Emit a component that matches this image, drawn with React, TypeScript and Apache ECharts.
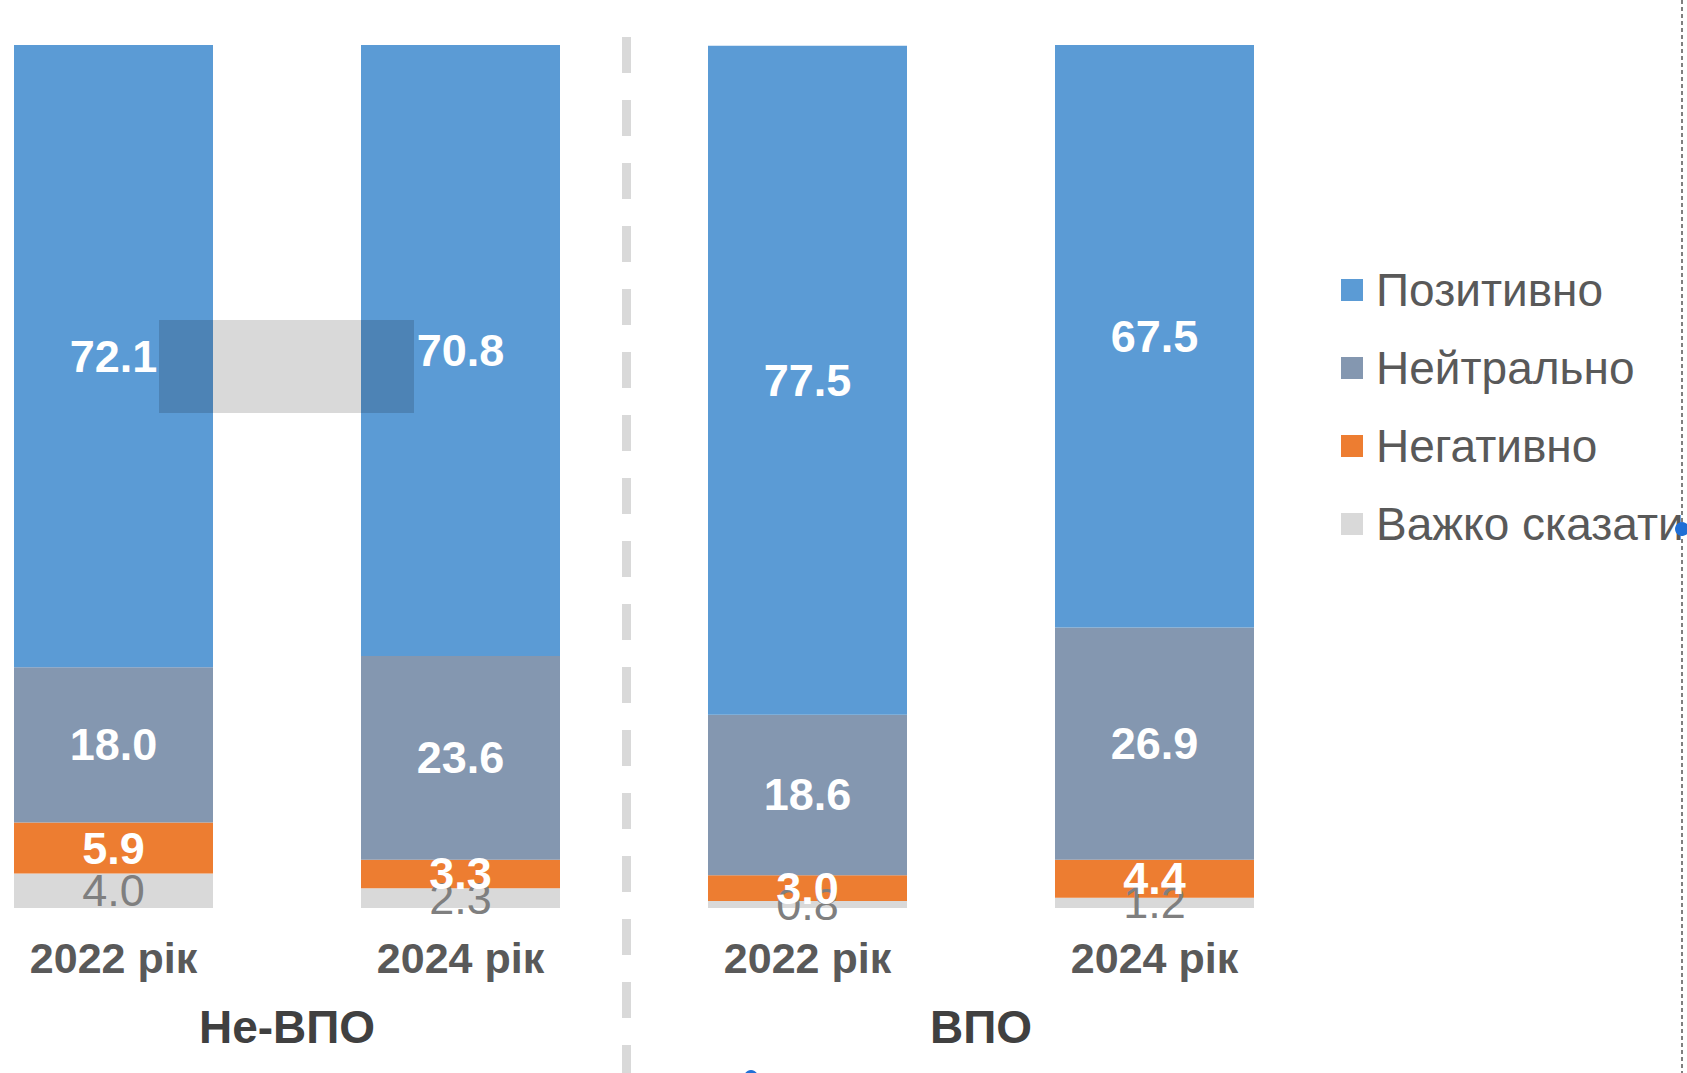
import React, { useEffect, useRef } from "react";
import * as echarts from "echarts";

const categories = ["2022 рік", "2024 рік", "2022 рік", "2024 рік"];
const groups = ["Не-ВПО", "ВПО"];
const seriesNames = ["Позитивно", "Нейтрально", "Негативно", "Важко сказати"];
const positive = [72.1, 70.8, 77.5, 67.5];
const neutral = [18.0, 23.6, 18.6, 26.9];
const negative = [5.9, 3.3, 3.0, 4.4];
const hardToSay = [4.0, 2.3, 0.8, 1.2];

const FONT = "'Liberation Sans', Arial, sans-serif";

export default function App() {
  const ref = useRef<HTMLDivElement>(null);
  useEffect(() => {
    if (!ref.current) return;
    const chart = echarts.init(ref.current, null, { renderer: "svg" });
    const fmt = (p: any) => Number(p.value).toFixed(1);
    const mk = (name: string, data: number[], color: string, labelColor: string, bold: boolean) => ({
      name,
      type: "bar",
      stack: "total",
      xAxisIndex: 0,
      data,
      barWidth: 199,
      itemStyle: { color },
      label: {
        show: true,
        position: "inside",
        formatter: fmt,
        color: labelColor,
        fontSize: 45,
        fontWeight: bold ? "bold" : "normal",
        fontFamily: FONT,
      },
    });
    chart.setOption({
      animation: false,
      backgroundColor: "#ffffff",
      grid: {
        left: -60,
        top: 45,
        width: 1388,
        height: 863,
        outerBoundsMode: "none",
        containLabel: false,
      },
      legend: {
        orient: "vertical",
        left: 1336,
        top: 262,
        itemWidth: 22,
        itemHeight: 22,
        itemGap: 32,
        icon: "rect",
        data: seriesNames,
        formatter: "{t|{name}}",
        textStyle: {
          color: "#595959",
          fontSize: 46,
          lineHeight: 46,
          fontFamily: FONT,
          rich: {
            t: {
              color: "#595959",
              fontSize: 46,
              lineHeight: 46,
              fontFamily: FONT,
              padding: [0, 0, 0, 8],
            },
          },
        },
      },
      xAxis: [
        {
          type: "category",
          data: categories,
          axisLine: { show: false },
          axisTick: { show: false },
          axisLabel: {
            interval: 0,
            margin: 28,
            color: "#595959",
            fontSize: 43,
            lineHeight: 44,
            fontWeight: "bold",
            fontFamily: FONT,
          },
        },
        {
          type: "category",
          data: groups,
          position: "bottom",
          offset: 70,
          axisLine: { show: false },
          axisTick: { show: false },
          axisLabel: {
            interval: 0,
            margin: 26,
            color: "#404040",
            fontSize: 46,
            lineHeight: 46,
            fontWeight: "bold",
            fontFamily: FONT,
          },
        },
      ],
      yAxis: { type: "value", min: 0, max: 100, show: false },
      series: [
        mk(seriesNames[3], hardToSay, "#d9d9d9", "#7f7f7f", false),
        mk(seriesNames[2], negative, "#ed7d31", "#ffffff", true),
        mk(seriesNames[1], neutral, "#8497b0", "#ffffff", true),
        mk(seriesNames[0], positive, "#5b9bd5", "#ffffff", true),
      ],
      graphic: [
        {
          type: "line",
          z: 50,
          shape: { x1: 626.5, y1: 37, x2: 626.5, y2: 1073 },
          style: { stroke: "#d9d9d9", lineWidth: 9, lineDash: [36, 27] },
        },
        {
          type: "rect",
          z: 100,
          shape: { x: 159, y: 320, width: 255, height: 93 },
          style: { fill: "rgba(0,0,0,0.15)" },
        },
        {
          type: "line",
          z: 50,
          shape: { x1: 1682, y1: 0, x2: 1682, y2: 1073 },
          style: { stroke: "#7f7f7f", lineWidth: 2, lineDash: [4, 3] },
        },
        {
          type: "circle",
          z: 110,
          shape: { cx: 1682, cy: 529, r: 7 },
          style: { fill: "#1f6fd6" },
        },
        {
          type: "circle",
          z: 110,
          shape: { cx: 751, cy: 1077, r: 7 },
          style: { fill: "#1f6fd6" },
        },
      ],
    });
    return () => chart.dispose();
  }, []);
  return (
    <div
      ref={ref}
      style={{ position: "absolute", left: 0, top: 0, width: 1687, height: 1073 }}
    />
  );
}
